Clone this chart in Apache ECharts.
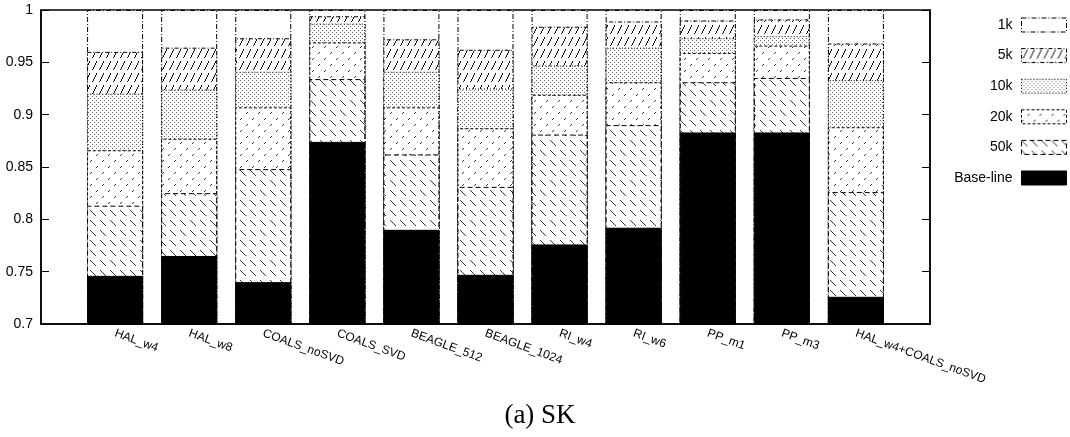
<!DOCTYPE html>
<html><head><meta charset="utf-8">
<script src="https://cdn.jsdelivr.net/npm/echarts@6/dist/echarts.min.js"></script>
<style>html,body{margin:0;padding:0;background:#fff}#c{width:1070px;height:437px}</style>
</head><body><div id="c"></div>
<script>
const categories = ['HAL_w4','HAL_w8','COALS_noSVD','COALS_SVD','BEAGLE_512','BEAGLE_1024','RI_w4','RI_w6','PP_m1','PP_m3','HAL_w4+COALS_noSVD'];
const seriesNames = ['1k','5k','10k','20k','50k','Base-line'];
const v1k      = [1.000,1.000,1.000,1.000,1.000,1.000,1.000,1.000,1.000,1.000,1.000];
const v5k      = [0.960,0.964,0.973,0.994,0.972,0.962,0.984,0.989,0.990,0.991,0.968];
const v10k     = [0.920,0.924,0.941,0.987,0.941,0.925,0.947,0.964,0.973,0.975,0.933];
const v20k     = [0.866,0.877,0.907,0.969,0.907,0.887,0.919,0.931,0.959,0.966,0.888];
const v50k     = [0.813,0.825,0.848,0.934,0.862,0.831,0.881,0.890,0.931,0.935,0.826];
const baseline = [0.746,0.765,0.740,0.874,0.790,0.747,0.776,0.792,0.883,0.883,0.726];
const yTicks = [0.7,0.75,0.8,0.85,0.9,0.95,1];

function pattern(w, h, color, pts) {
  const c = document.createElement('canvas');
  c.width = w; c.height = h;
  const ctx = c.getContext('2d');
  ctx.fillStyle = '#fff'; ctx.fillRect(0,0,w,h);
  ctx.fillStyle = color;
  pts.forEach(p => ctx.fillRect(p[0], p[1], 1, 1));
  return {image: c, repeat: 'repeat'};
}
// 50k: back-slash dashed lines
const p50 = (() => { const pts=[]; for(let i=0;i<10;i++){ if(i<6) pts.push([i,i]); } return pattern(10,10,'#333',pts); })();
// 20k: slash sparse dashes
const p20 = (() => { const pts=[]; for(let i=0;i<12;i++){ if(i%6<2) pts.push([i,11-i]); } return pattern(12,12,'#333',pts); })();
// 10k: dense dotted back-slash
const p10 = (() => { const pts=[[0,0],[2,2]]; return pattern(4,4,'#666',pts); })();
// 5k: steep slash strokes
const p5 = (() => { const pts=[]; for(let y=1;y<=9;y++){ pts.push([Math.round(1+(9-y)*4/8), y]); } return pattern(7,12,'#111',pts); })();

const styles = {
  '1k':  {color:'#fff', borderColor:'#000', borderWidth:1, borderType:[5,2,1,2]},
  '5k':  {color:p5, borderColor:'#000', borderWidth:1, borderType:[4,2,1,2]},
  '10k': {color:p10, borderColor:'#000', borderWidth:1, borderType:[1,2]},
  '20k': {color:p20, borderColor:'#000', borderWidth:1, borderType:[3,2]},
  '50k': {color:p50, borderColor:'#000', borderWidth:1, borderType:[5,3]},
  'Base-line': {color:'#000', borderColor:'#000', borderWidth:1}
};
const valuesBy = {'1k':v1k,'5k':v5k,'10k':v10k,'20k':v20k,'50k':v50k,'Base-line':baseline};

const cats = [''].concat(categories, ['']);
const pad = arr => ['-'].concat(arr, ['-']);

const chart = echarts.init(document.getElementById('c'), null, {renderer:'canvas'});
const font = 'Liberation Sans';
chart.setOption({
  animation: false,
  backgroundColor: '#fff',
  grid: {left:41, right:140, top:10, bottom:113, show:true, borderColor:'#000', borderWidth:1.5, backgroundColor:'transparent'},
  legend: {
    orient:'vertical', right:3, top:17.5, padding:0, icon:'rect',
    itemWidth:45, itemHeight:14, itemGap:15.6, align:'right',
    textStyle:{fontFamily:font, fontSize:14, lineHeight:14, color:'#000', padding:[0,4,0,0]},
    data: seriesNames.map(n => ({name:n, itemStyle:{borderColor:'#000', borderWidth:1, borderType:styles[n].borderType || 'solid'}}))
  },
  xAxis: {
    type:'category', data:cats, boundaryGap:false,
    axisLine:{show:true, lineStyle:{color:'#000', width:1.5}},
    axisTick:{show:false},
    axisLabel:{rotate:-20, interval:0, fontFamily:font, fontSize:12, color:'#000', margin:9}
  },
  yAxis: [{
    type:'value', min:0.7, max:1, interval:0.05,
    axisLine:{show:true, lineStyle:{color:'#000', width:1.5}},
    axisTick:{show:true, inside:true, length:8, lineStyle:{color:'#000'}},
    splitLine:{show:false},
    axisLabel:{fontFamily:font, fontSize:14, color:'#000', margin:8,
      formatter: v => String(Math.round(v*100)/100)}
  },{
    type:'value', min:0.7, max:1, interval:0.05, position:'right',
    axisLine:{show:true, lineStyle:{color:'#000', width:1.5}},
    axisTick:{show:true, inside:true, length:8, lineStyle:{color:'#000'}},
    splitLine:{show:false}, axisLabel:{show:false}
  }],
  series: seriesNames.map(n => ({
    name:n, type:'bar', barWidth:56, barGap:'-100%', clip:true,
    itemStyle: styles[n],
    emphasis:{disabled:true},
    data: pad(valuesBy[n])
  })),
  graphic: [{
    type:'text', x:540, y:402,
    style:{text:'(a) SK', font:'27px "Liberation Serif"', fill:'#000', textAlign:'center'}
  }]
});
</script>
</body></html>
